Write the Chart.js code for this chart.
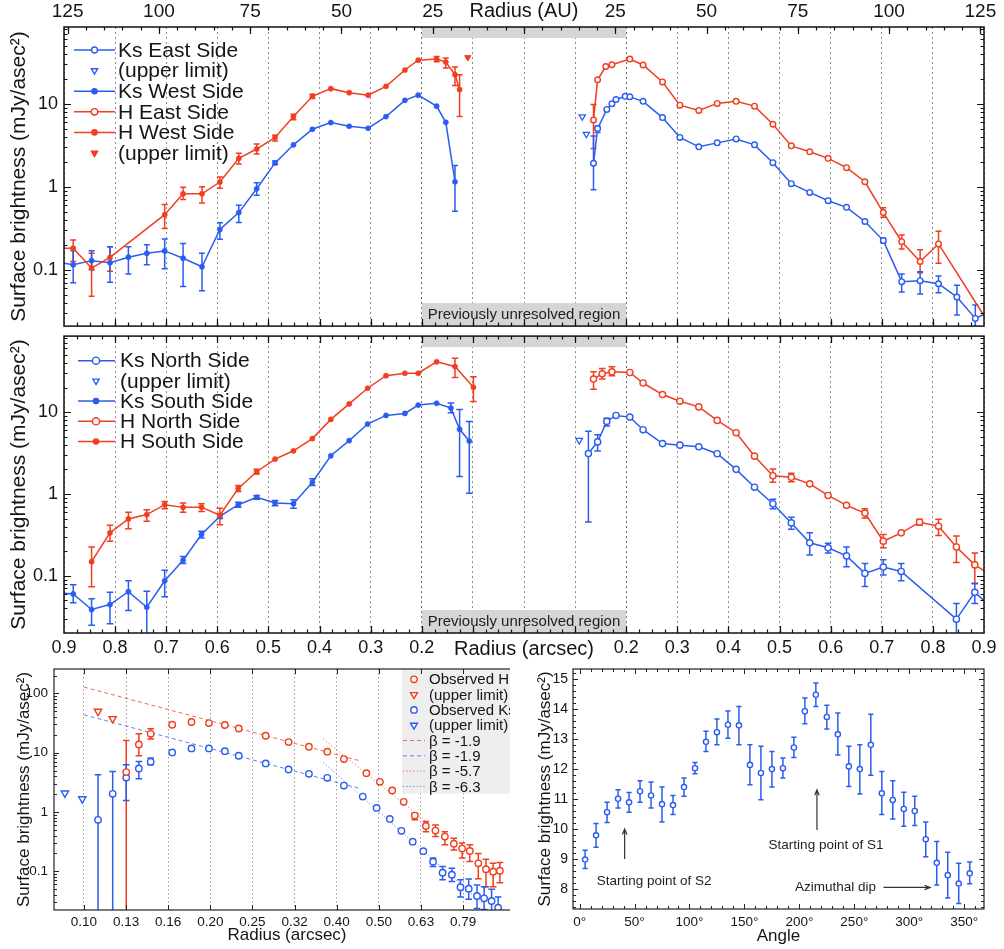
<!DOCTYPE html>
<html>
<head>
<meta charset="utf-8">
<title>Surface brightness profiles</title>
<script src="https://cdn.jsdelivr.net/npm/chart.js@4.4.1/dist/chart.umd.min.js"></script>
<style>
  html, body { margin: 0; padding: 0; background: #fff; }
  #wrap { position: relative; width: 1004px; height: 949px; overflow: hidden; }
  .cell { position: absolute; overflow: hidden; }
  canvas { display: block; }
</style>
</head>
<body>
<div id="wrap">
  <div class="cell" style="left:0;top:0;width:1004px;height:331px"><canvas id="ew" width="1004" height="331"></canvas></div>
  <div class="cell" style="left:0;top:331px;width:1004px;height:329px"><canvas id="ns" width="1004" height="329"></canvas></div>
  <div class="cell" style="left:0;top:660px;width:510px;height:289px"><canvas id="pl" width="530" height="289"></canvas></div>
  <div class="cell" style="left:510px;top:660px;width:494px;height:289px"><canvas id="az" width="494" height="289"></canvas></div>
</div>
<script>
// ---------- axis labels ----------
const AU_PER_ARCSEC = 140;
const arcsecGrid = [0.1, 0.2, 0.3, 0.4, 0.5, 0.6, 0.7, 0.8, 0.9];
const auLabels = [25, 50, 75, 100, 125];
const profileDecades = [0.1, 1, 10];
const slopeDecades = [0.1, 1, 10, 100];
const radiusTicks = [0.1, 0.1259, 0.1585, 0.1995, 0.2512, 0.3162, 0.3981, 0.5012, 0.631, 0.7943];
const angleLabels = [0, 50, 100, 150, 200, 250, 300, 350];
const brightLabels = [8, 9, 10, 11, 12, 13, 14, 15];

// ---------- East / West profiles (radius in arcsec) ----------
const ksWestR = [0.905, 0.882, 0.846, 0.810, 0.774, 0.738, 0.703, 0.667, 0.630, 0.595, 0.558, 0.523, 0.487, 0.451, 0.414, 0.378, 0.342, 0.305, 0.270, 0.233, 0.207, 0.171, 0.153, 0.135];
const ksWestV = [0.121, 0.115, 0.129, 0.122, 0.142, 0.158, 0.169, 0.138, 0.109, 0.306, 0.489, 0.946, 1.94, 3.20, 4.93, 5.93, 5.36, 5.07, 7.00, 11.0, 12.7, 9.36, 5.98, 1.15];
const ksWestErr = [null, [0.07, 0.17], [0.10, 0.17], [0.071, 0.19], [0.089, 0.19], [0.115, 0.20], [0.103, 0.235], [0.063, 0.208], [0.056, 0.158], [0.234, 0.368], [0.372, 0.599], [0.79, 1.12], [1.85, 2.04],
  null, null, null, null, null, null, null, null, null, null, [0.507, 1.80]];

const hWestR = [0.905, 0.882, 0.846, 0.810, 0.703, 0.667, 0.630, 0.595, 0.558, 0.523, 0.487, 0.451, 0.414, 0.378, 0.342, 0.305, 0.270, 0.233, 0.207, 0.171, 0.153, 0.135, 0.126];
const hWestV = [0.182, 0.182, 0.105, 0.141, 0.462, 0.824, 0.824, 1.14, 2.20, 2.85, 3.93, 7.0, 12.3, 15.2, 13.6, 12.7, 16.2, 25.5, 33.5, 34.5, 31.8, 22.4, 14.8];
const hWestErr = [null, [0.126, 0.228], [0.048, 0.158], [0.096, 0.19], [0.315, 0.61], [0.705, 0.99], [0.64, 1.0], [0.96, 1.31], [1.88, 2.53], [2.48, 3.27], [3.57, 4.18], [6.4, 7.45], [11.6, 13.0],
  null, null, null, null, null, null, [32, 37], [26.9, 35.5], [16.6, 27.7], [7.0, 22.4]];
const hWestLimR = [0.110];
const hWestLimV = [36.1];

const ksEastR = [0.136, 0.144, 0.162, 0.172, 0.180, 0.198, 0.207, 0.233, 0.271, 0.305, 0.342, 0.378, 0.415, 0.451, 0.487, 0.523, 0.559, 0.595, 0.631, 0.667, 0.703, 0.739, 0.775, 0.811, 0.847, 0.883, 0.905];
const ksEastV = [1.92, 5.02, 8.55, 10.0, 11.25, 12.3, 12.1, 10.7, 6.81, 3.93, 3.03, 3.38, 3.77, 3.20, 1.95, 1.09, 0.855, 0.68, 0.566, 0.382, 0.225, 0.072, 0.074, 0.068, 0.047, 0.026, 0.030];
const ksEastErr = [[0.92, 4.1], [4.5, 5.4], null, null, null, null, null, null, null, null, null, null, null, null, null, null, null, null, null, null,
  [0.21, 0.24], [0.054, 0.089], [0.051, 0.095], [0.053, 0.084], [0.0285, 0.065], [0.020, 0.0376], null];
const ksEastLimR = [0.114, 0.122];
const ksEastLimV = [7.0, 4.3];

const hEastR = [0.136, 0.144, 0.160, 0.172, 0.207, 0.233, 0.271, 0.305, 0.342, 0.378, 0.415, 0.451, 0.487, 0.523, 0.559, 0.595, 0.631, 0.667, 0.703, 0.739, 0.775, 0.811, 0.905];
const hEastV = [6.37, 19.4, 28.1, 29.5, 34.5, 29.3, 18.3, 9.62, 8.32, 10.1, 10.7, 9.36, 5.66, 3.11, 2.64, 2.20, 1.70, 1.15, 0.489, 0.218, 0.126, 0.205, 0.025];
const hEastErr = [[2.9, 9.8], null, null, null, null, null, null, null, null, null, null, null, null, null, null, null, null, null,
  [0.43, 0.56], [0.178, 0.262], [0.092, 0.174], [0.12, 0.292], null];

// ---------- North / South profiles ----------
const ksSouthR = [0.905, 0.882, 0.846, 0.810, 0.774, 0.738, 0.703, 0.667, 0.631, 0.595, 0.559, 0.523, 0.487, 0.451, 0.414, 0.378, 0.342, 0.306, 0.270, 0.233, 0.207, 0.171, 0.143, 0.126, 0.107];
const ksSouthV = [0.0617, 0.060, 0.0387, 0.0445, 0.064, 0.0413, 0.0869, 0.155, 0.32, 0.533, 0.739, 0.908, 0.774, 0.761, 1.39, 2.93, 4.49, 7.16, 9.12, 9.64, 12.2, 12.85, 11.2, 6.17, 4.44];
const ksSouthErr = [null, [0.0467, 0.078], [0.0248, 0.0523], [0.026, 0.0628], [0.0377, 0.0869], [0.012, 0.0646], [0.0556, 0.117], [0.141, 0.172], [0.29, 0.35], [0.5, 0.57], [0.69, 0.79], [0.86, 0.96], [0.72, 0.83], [0.67, 0.85], [1.27, 1.53],
  null, null, null, null, null, null, null, [9.8, 12.96], [1.63, 10.8], [1.02, 7.71]];

const hSouthR = [0.846, 0.810, 0.774, 0.738, 0.703, 0.667, 0.631, 0.595, 0.559, 0.523, 0.487, 0.451, 0.414, 0.378, 0.342, 0.306, 0.270, 0.233, 0.207, 0.171, 0.135, 0.099];
const hSouthV = [0.149, 0.335, 0.496, 0.56, 0.74, 0.686, 0.69, 0.549, 1.17, 1.87, 2.67, 3.37, 4.75, 8.16, 12.6, 19.6, 27.9, 29.9, 29.9, 41.2, 36.1, 20.1];
const hSouthErr = [[0.0736, 0.225], [0.265, 0.415], [0.375, 0.60], [0.464, 0.64], [0.66, 0.81], [0.60, 0.774], [0.61, 0.76], [0.42, 0.67], [1.07, 1.27], [1.75, 2.0],
  null, null, null, null, null, null, null, null, null, null, [26.6, 45.5], [13.5, 27.1]];

const ksNorthR = [0.126, 0.144, 0.162, 0.180, 0.207, 0.233, 0.271, 0.305, 0.342, 0.378, 0.415, 0.451, 0.487, 0.523, 0.559, 0.595, 0.631, 0.667, 0.703, 0.738, 0.846, 0.882, 0.905];
const ksNorthV = [3.12, 4.33, 7.71, 9.12, 8.70, 6.10, 4.13, 3.95, 3.77, 3.10, 2.0, 1.21, 0.76, 0.443, 0.253, 0.220, 0.175, 0.107, 0.128, 0.113, 0.0295, 0.0628, 0.0467];
const ksNorthErr = [[0.455, 5.84], [3.34, 5.3], [6.77, 8.45], null, null, null, null, null, null, null, null, null,
  [0.66, 0.865], [0.37, 0.52], [0.18, 0.335], [0.19, 0.25], [0.129, 0.225], [0.074, 0.141], [0.102, 0.157], [0.087, 0.141], [0.012, 0.046], [0.046, 0.081], null];
const ksNorthLimR = [0.108];
const ksNorthLimV = [4.54];

const hNorthR = [0.136, 0.153, 0.172, 0.207, 0.233, 0.271, 0.305, 0.342, 0.378, 0.415, 0.451, 0.487, 0.523, 0.559, 0.595, 0.631, 0.667, 0.703, 0.738, 0.774, 0.811, 0.846, 0.882, 0.905];
const hNorthV = [25.4, 29.4, 31.1, 30.5, 22.7, 16.4, 13.6, 11.6, 7.93, 5.61, 2.90, 1.67, 1.60, 1.33, 0.96, 0.726, 0.585, 0.265, 0.335, 0.452, 0.404, 0.225, 0.136, 0.111];
const hNorthErr = [[19.1, 31.1], [25.4, 34.1], [27.9, 35.8], null, null, null, null, null, null, null, null, [1.39, 2.02], [1.41, 1.79], null, null, null,
  [0.51, 0.66], [0.22, 0.32], null, [0.415, 0.49], [0.31, 0.49], [0.145, 0.306], [0.080, 0.19], null];

// ---------- azimuthally averaged profile, log-log ----------
const obsHR = [0.126, 0.135, 0.144, 0.162, 0.180, 0.198, 0.216, 0.233, 0.270, 0.306, 0.342, 0.378, 0.414, 0.468, 0.504, 0.539, 0.574, 0.610, 0.648, 0.683, 0.719, 0.755, 0.790, 0.824, 0.863, 0.900, 0.936, 0.971];
const obsHV = [4.70, 13.8, 20.8, 29.6, 32.9, 31.6, 29.3, 25.6, 19.3, 15.1, 12.6, 10.4, 7.80, 4.52, 3.22, 2.30, 1.48, 0.87, 0.582, 0.485, 0.384, 0.292, 0.241, 0.220, 0.136, 0.108, 0.0985, 0.102];
const obsHErr = [[0.01, 16.1], [8.87, 20.8], [17.0, 25.3], null, null, null, null, null, null, null, null, null, null, null, null, null, null,
  [0.736, 0.955], [0.466, 0.69], [0.385, 0.60], [0.28, 0.466], [0.228, 0.36], [0.168, 0.30], [0.146, 0.28], [0.0744, 0.2], [0.0546, 0.159], [0.0546, 0.136], [0.064, 0.14]];
const obsHLimR = [0.108, 0.117];
const obsHLimV = [49.7, 37.4];

const obsKR = [0.108, 0.117, 0.126, 0.135, 0.144, 0.162, 0.180, 0.198, 0.216, 0.233, 0.270, 0.306, 0.342, 0.378, 0.414, 0.459, 0.495, 0.532, 0.567, 0.603, 0.639, 0.674, 0.710, 0.747, 0.783, 0.819, 0.857, 0.891, 0.928, 0.962];
const obsKV = [0.736, 2.02, 3.81, 5.41, 7.01, 10.1, 11.8, 11.8, 10.6, 8.87, 6.58, 5.20, 4.40, 3.77, 2.79, 1.82, 1.17, 0.764, 0.480, 0.316, 0.218, 0.145, 0.0946, 0.0877, 0.0537, 0.0509, 0.0383, 0.035, 0.0315, 0.0243];
const obsKErr = [[0.01, 4.23], [0.01, 4.81], [1.56, 6.25], [3.63, 7.1], [6.25, 8.1], null, null, null, null, null, null, null, null, null, null, null, null, null, null, null, null,
  [0.12, 0.168], [0.0718, 0.12], [0.0673, 0.112], [0.0369, 0.0718], [0.0338, 0.0737], [0.0236, 0.0586], [0.0227, 0.0546], [0.015, 0.0496], [0.01, 0.0369]];
const obsKLimR = [0.0901, 0.0991];
const obsKLimV = [2.08, 1.66];

// power-law fits: slope, anchor radius / brightness, end radius
const fitBeta = [-1.9, -1.9, -5.7, -6.3];
const fitFromR = [0.1, 0.1, 0.37, 0.37];
const fitFromV = [128, 43.6, 17.0, 6.83];
const fitToR = [0.452, 0.452, 0.66, 0.90];

// ---------- azimuthal profile ----------
const angles = [5, 15, 25, 35, 45, 55, 65, 75, 85, 95, 105, 115, 125, 135, 145, 155, 165, 175, 185, 195, 205, 215, 225, 235, 245, 255, 265, 275, 285, 295, 305, 315, 325, 335, 345, 355];
const azBright = [8.98, 9.79, 10.56, 11.01, 10.89, 11.26, 11.12, 10.83, 10.80, 11.40, 12.03, 12.91, 13.23, 13.48, 13.46, 12.14, 11.87, 12.0, 12.03, 12.72, 13.93, 14.48, 13.74, 13.16, 12.09, 12.0, 12.81, 11.19, 10.97, 10.67, 10.60, 9.66, 8.87, 8.46, 8.18, 8.52];
const azLo = [8.68, 9.39, 10.22, 10.70, 10.56, 10.89, 10.70, 10.23, 10.48, 11.09, 11.84, 12.59, 12.81, 13.03, 12.81, 11.48, 10.98, 11.40, 11.70, 12.39, 13.51, 14.09, 13.34, 12.47, 11.42, 11.17, 11.79, 10.48, 10.33, 10.09, 10.12, 9.07, 8.13, 7.70, 7.51, 8.17];
const azHi = [9.29, 10.18, 10.89, 11.31, 11.22, 11.61, 11.57, 11.40, 11.12, 11.70, 12.22, 13.26, 13.67, 13.94, 14.09, 12.81, 12.76, 12.59, 12.37, 13.06, 14.37, 14.87, 14.13, 13.87, 12.76, 12.81, 13.83, 11.92, 11.61, 11.23, 11.09, 10.23, 9.58, 9.22, 8.86, 8.90];

// ================= drawing =================
const BLUE = '#2b5cf2', RED = '#f23d1f', INK = '#151515';
const FONT = "'Liberation Sans', Arial, Helvetica, sans-serif";
Chart.defaults.font.family = FONT;
Chart.defaults.color = INK;
const YTITLE = 'Surface brightness (mJy/asec\u00b2)';

const both = v => [...v.map(a => -a).reverse(), 0, ...v];
function seq(from, to, step) {
  const out = [];
  for (let k = Math.ceil(from / step - 1e-9); k * step <= to + 1e-9; k++) out.push(k * step);
  return out;
}
function logSeq(lo, hi) {
  const out = [];
  for (let d = Math.floor(Math.log10(lo)); d <= Math.ceil(Math.log10(hi)); d++)
    for (let m = 1; m < 10; m++) { const v = m * Math.pow(10, d); if (v >= lo && v <= hi) out.push(v); }
  return out;
}
// fixed axis box, no label overhang padding
function boxSize(w, h) {
  return s => {
    if (w != null) s.width = w;
    if (h != null) s.height = h;
    s.paddingTop = s.paddingBottom = s.paddingLeft = s.paddingRight = 0;
  };
}

// one plotted series; side = -1 mirrors onto the left half
function series(label, rs, vs, es, side, color, look) {
  return {
    label,
    data: rs.map((r, i) => ({ x: side * r, y: vs[i] })),
    errs: es || null,
    cap: look.cap || 3,
    showLine: !!look.line,
    borderColor: color,
    backgroundColor: color,
    borderWidth: look.lw || 1.5,
    borderDash: look.dash || [],
    pointStyle: look.shape || 'circle',
    pointRotation: look.down ? 180 : 0,
    pointRadius: rs.map(r => (look.edge && r > 0.9 ? 0 : (look.r ?? 3))),
    pointHoverRadius: 0,
    pointBorderWidth: look.bw ?? 1.4,
    pointBackgroundColor: look.open ? '#fff' : color,
    pointBorderColor: color,
    clip: 0
  };
}

const errorBars = {
  id: 'errorBars',
  beforeDatasetsDraw(chart) {
    const { ctx, chartArea: a, scales } = chart;
    ctx.save();
    ctx.beginPath();
    ctx.rect(a.left, a.top, a.right - a.left, a.bottom - a.top);
    ctx.clip();
    chart.data.datasets.forEach(ds => {
      if (!ds.errs) return;
      const xs = scales.x, ys = scales.y, c = ds.cap;
      ctx.strokeStyle = ds.borderColor;
      ctx.lineWidth = 1.5;
      ds.errs.forEach((e, j) => {
        if (!e) return;
        const x = xs.getPixelForValue(ds.data[j].x);
        const y0 = ys.getPixelForValue(e[0]), y1 = ys.getPixelForValue(e[1]);
        ctx.beginPath();
        ctx.moveTo(x, y0); ctx.lineTo(x, y1);
        ctx.moveTo(x - c, y0); ctx.lineTo(x + c, y0);
        ctx.moveTo(x - c, y1); ctx.lineTo(x + c, y1);
        ctx.stroke();
      });
    });
    ctx.restore();
  }
};

function frame(ctx, a, color, w) {
  ctx.save();
  ctx.strokeStyle = color; ctx.lineWidth = w;
  ctx.strokeRect(a.left, a.top, a.right - a.left, a.bottom - a.top);
  ctx.restore();
}
function marksX(ctx, sc, a, vals, len, top, bottom) {
  ctx.beginPath();
  vals.forEach(v => {
    const x = Math.round(sc.getPixelForValue(v)) + 0.5;
    if (x < a.left + 1 || x > a.right - 1) return;
    if (bottom) { ctx.moveTo(x, a.bottom); ctx.lineTo(x, a.bottom - len); }
    if (top) { ctx.moveTo(x, a.top); ctx.lineTo(x, a.top + len); }
  });
  ctx.stroke();
}
function marksY(ctx, sc, a, vals, len) {
  ctx.beginPath();
  vals.forEach(v => {
    const y = Math.round(sc.getPixelForValue(v)) + 0.5;
    if (y < a.top + 1 || y > a.bottom - 1) return;
    ctx.moveTo(a.left, y); ctx.lineTo(a.left + len, y);
    ctx.moveTo(a.right, y); ctx.lineTo(a.right - len, y);
  });
  ctx.stroke();
}
function drawMark(ctx, it, x, y) {
  ctx.save();
  ctx.strokeStyle = it.color;
  ctx.fillStyle = it.open ? '#fff' : it.color;
  ctx.lineWidth = 1.4;
  Chart.helpers.drawPoint(ctx, { pointStyle: it.shape, radius: it.r, rotation: it.down ? 180 : 0, borderWidth: 1.4 }, x, y);
  ctx.restore();
}
function drawLegend(ctx, items, g) {
  ctx.save();
  ctx.font = g.font;
  ctx.textBaseline = 'middle';
  ctx.textAlign = 'left';
  items.forEach((it, i) => {
    const y = g.y + i * g.dy;
    if (it.line) {
      ctx.strokeStyle = it.color;
      ctx.lineWidth = it.lw || 1.5;
      ctx.setLineDash(Array.isArray(it.line) ? it.line : []);
      ctx.beginPath(); ctx.moveTo(g.x0, y); ctx.lineTo(g.x1, y); ctx.stroke();
      ctx.setLineDash([]);
    }
    if (it.shape) drawMark(ctx, it, g.mx, y);
    ctx.fillStyle = INK;
    ctx.fillText(it.text, g.tx, y + 1);
  });
  ctx.restore();
}
function arrow(ctx, x0, y0, x1, y1) {
  const ang = Math.atan2(y1 - y0, x1 - x0), h = 6;
  ctx.beginPath();
  ctx.moveTo(x0, y0); ctx.lineTo(x1, y1);
  ctx.moveTo(x1 - h * Math.cos(ang - 0.38), y1 - h * Math.sin(ang - 0.38));
  ctx.lineTo(x1, y1);
  ctx.lineTo(x1 - h * Math.cos(ang + 0.38), y1 - h * Math.sin(ang + 0.38));
  ctx.stroke();
}

// gray markers for the inner region
const unresolved = {
  id: 'unresolved',
  beforeDatasetsDraw(chart) {
    const { ctx, chartArea: a, scales: { x } } = chart;
    const x0 = x.getPixelForValue(-0.2), x1 = x.getPixelForValue(0.2);
    ctx.save();
    ctx.fillStyle = '#d5d5d5';
    ctx.fillRect(x0, a.top, x1 - x0, 11);
    ctx.fillRect(x0, a.bottom - 23, x1 - x0, 23);
    ctx.fillStyle = '#1e1e1e';
    ctx.font = '15px ' + FONT;
    ctx.textAlign = 'center';
    ctx.textBaseline = 'middle';
    ctx.fillText('Previously unresolved region', (x0 + x1) / 2, a.bottom - 11);
    ctx.restore();
  }
};

function profileAxes(ymin, ymax, xBottom) {
  const gridColor = c => (c.tick && Math.abs(Math.abs(c.tick.value) - 0.2) < 1e-6 ? '#666' : '#8e8e8e');
  return {
    x: {
      type: 'linear', min: -0.9, max: 0.9, position: 'bottom',
      afterBuildTicks: s => { s.ticks = both(arcsecGrid).map(v => ({ value: v })); },
      afterFit: boxSize(null, xBottom ? 27 : 3),
      ticks: {
        display: xBottom, padding: 4, autoSkip: false, maxRotation: 0, minRotation: 0,
        font: c => ({ size: c.tick && c.tick.value === 0 ? 20 : 18 }),
        callback: v => {
          const a = Math.abs(v);
          if (a < 1e-9) return 'Radius (arcsec)';
          return a < 0.15 ? '' : a.toFixed(1);
        }
      },
      grid: { color: gridColor, lineWidth: 1, drawTicks: false },
      border: { display: false, dash: [2, 3] }
    },
    y: {
      type: 'logarithmic', min: ymin, max: ymax,
      afterBuildTicks: s => { s.ticks = profileDecades.map(v => ({ value: v })); },
      afterFit: boxSize(64, null),
      ticks: { padding: 6, font: { size: 18 }, callback: v => String(v), autoSkip: false },
      grid: { display: false, drawTicks: false },
      border: { display: false },
      title: { display: true, text: YTITLE, font: { size: 21 }, padding: { top: 7, bottom: 0 } }
    }
  };
}

function profileFrame(chart, withAU) {
  const { ctx, chartArea: a, scales } = chart;
  ctx.save();
  ctx.strokeStyle = '#111';
  ctx.lineWidth = 1.2;
  marksX(ctx, scales.x, a, seq(-0.9, 0.9, 0.1), 7, !withAU, true);
  marksX(ctx, scales.x, a, seq(-0.9, 0.9, 0.025), 3.5, !withAU, true);
  if (withAU) {
    marksX(ctx, scales.x2, a, seq(-125, 125, 25), 7, true, false);
    marksX(ctx, scales.x2, a, seq(-125, 125, 5), 3.5, true, false);
  }
  marksY(ctx, scales.y, a, profileDecades, 7);
  marksY(ctx, scales.y, a, logSeq(scales.y.min, scales.y.max), 3.5);
  ctx.restore();
  frame(ctx, a, '#111', 1.5);
}

const lineOpen = { line: true, open: true, r: 2.8, edge: true };
const lineDot = { line: true, r: 2.6, bw: 0.5, edge: true };

// ----- East / West -----
new Chart(document.getElementById('ew'), {
  type: 'scatter',
  data: {
    datasets: [
      series('H West Side', hWestR, hWestV, hWestErr, -1, RED, lineDot),
      series('H East Side', hEastR, hEastV, hEastErr, 1, RED, lineOpen),
      series('H West limit', hWestLimR, hWestLimV, null, -1, RED, { shape: 'triangle', down: true, r: 3.6, bw: 1 }),
      series('Ks West Side', ksWestR, ksWestV, ksWestErr, -1, BLUE, lineDot),
      series('Ks East Side', ksEastR, ksEastV, ksEastErr, 1, BLUE, lineOpen),
      series('Ks East limit', ksEastLimR, ksEastLimV, null, 1, BLUE, { shape: 'triangle', down: true, open: true, r: 3.6, bw: 1.3 })
    ]
  },
  options: {
    responsive: false, animation: false, events: [],
    layout: { padding: { right: 20 } },
    plugins: { legend: { display: false }, tooltip: { enabled: false } },
    scales: Object.assign(profileAxes(0.021, 84, false), {
      x2: {
        type: 'linear', position: 'top', min: -0.9 * AU_PER_ARCSEC, max: 0.9 * AU_PER_ARCSEC,
        afterBuildTicks: s => { s.ticks = both(auLabels).map(v => ({ value: v })); },
        afterFit: boxSize(null, 27),
        ticks: {
          padding: 4, autoSkip: false, maxRotation: 0, minRotation: 0,
          font: c => ({ size: c.tick && c.tick.value === 0 ? 20 : 19 }),
          callback: v => (v === 0 ? 'Radius (AU)' : String(Math.abs(v)))
        },
        grid: { display: false, drawTicks: false },
        border: { display: false }
      }
    })
  },
  plugins: [unresolved, errorBars, {
    id: 'ewDecor',
    afterDraw(chart) {
      profileFrame(chart, true);
      drawLegend(chart.ctx, [
        { text: 'Ks East Side', color: BLUE, line: true, shape: 'circle', open: true, r: 3 },
        { text: '(upper limit)', color: BLUE, shape: 'triangle', down: true, open: true, r: 3.6 },
        { text: 'Ks West Side', color: BLUE, line: true, shape: 'circle', r: 2.6 },
        { text: 'H East Side', color: RED, line: true, shape: 'circle', open: true, r: 3.2 },
        { text: 'H West Side', color: RED, line: true, shape: 'circle', r: 2.6 },
        { text: '(upper limit)', color: RED, shape: 'triangle', down: true, r: 3.6 }
      ], { font: '21px ' + FONT, x0: 74, x1: 115, mx: 94.5, tx: 118, y: 50, dy: 20.6 });
    }
  }]
});

// ----- North / South -----
const lineOpenNS = { line: true, open: true, r: 3.1, edge: true, cap: 3.3 };
const lineDotNS = { line: true, r: 2.6, bw: 0.5, edge: true, cap: 3.3 };
new Chart(document.getElementById('ns'), {
  type: 'scatter',
  data: {
    datasets: [
      series('H South Side', hSouthR, hSouthV, hSouthErr, -1, RED, lineDotNS),
      series('H North Side', hNorthR, hNorthV, hNorthErr, 1, RED, lineOpenNS),
      series('Ks South Side', ksSouthR, ksSouthV, ksSouthErr, -1, BLUE, lineDotNS),
      series('Ks North Side', ksNorthR, ksNorthV, ksNorthErr, 1, BLUE, lineOpenNS),
      series('Ks North limit', ksNorthLimR, ksNorthLimV, null, 1, BLUE, { shape: 'triangle', down: true, open: true, r: 3.8, bw: 1.3 })
    ]
  },
  options: {
    responsive: false, animation: false, events: [],
    layout: { padding: { top: 2, right: 20 } },
    plugins: { legend: { display: false }, tooltip: { enabled: false } },
    scales: profileAxes(0.02, 85, true)
  },
  plugins: [unresolved, errorBars, {
    id: 'nsDecor',
    afterDraw(chart) {
      profileFrame(chart, false);
      drawLegend(chart.ctx, [
        { text: 'Ks North Side', color: BLUE, line: true, shape: 'circle', open: true, r: 3.6 },
        { text: '(upper limit)', color: BLUE, shape: 'triangle', down: true, open: true, r: 3.6 },
        { text: 'Ks South Side', color: BLUE, line: true, shape: 'circle', r: 2.6 },
        { text: 'H North Side', color: RED, line: true, shape: 'circle', open: true, r: 3.6 },
        { text: 'H South Side', color: RED, line: true, shape: 'circle', r: 2.6 }
      ], { font: '21px ' + FONT, x0: 78, x1: 115, mx: 96, tx: 120, y: 29.7, dy: 20.2 });
    }
  }]
});

// ----- radial power-law panel -----
const fitLook = i => ({ line: true, r: 0, lw: 1, dash: i < 2 ? [4, 3] : [1.2, 2.2] });
const fitSets = fitBeta.map((b, i) => {
  const endV = fitFromV[i] * Math.pow(fitToR[i] / fitFromR[i], b);
  return series('beta ' + b, [fitFromR[i], fitToR[i]], [fitFromV[i], endV], null, 1, i % 2 ? '#5a82f2' : '#f06a50', fitLook(i));
});
const openBig = { open: true, r: 3.2, cap: 3.3 };
new Chart(document.getElementById('pl'), {
  type: 'scatter',
  data: {
    datasets: [
      series('Observed H', obsHR, obsHV, obsHErr, 1, RED, openBig),
      series('H limit', obsHLimR, obsHLimV, null, 1, RED, { shape: 'triangle', down: true, open: true, r: 4.2 }),
      series('Observed Ks', obsKR, obsKV, obsKErr, 1, BLUE, openBig),
      series('Ks limit', obsKLimR, obsKLimV, null, 1, BLUE, { shape: 'triangle', down: true, open: true, r: 4.2 }),
      ...fitSets
    ]
  },
  options: {
    responsive: false, animation: false, events: [],
    layout: { padding: { top: 9, right: 10 } },
    plugins: { legend: { display: false }, tooltip: { enabled: false } },
    scales: {
      x: {
        type: 'logarithmic', min: 0.0849, max: 1.084,
        afterBuildTicks: s => { s.ticks = radiusTicks.map(v => ({ value: v })); },
        afterFit: boxSize(null, 39),
        ticks: { padding: 4, font: { size: 13.5 }, autoSkip: false, maxRotation: 0, minRotation: 0, callback: v => v.toFixed(2) },
        grid: { color: '#9a9a9a', drawTicks: false },
        border: { display: false, dash: [1.5, 2.5] },
        title: { display: true, text: 'Radius (arcsec)', font: { size: 17 }, padding: { top: 0, bottom: 3 } }
      },
      y: {
        type: 'logarithmic', min: 0.0222, max: 258,
        afterBuildTicks: s => { s.ticks = slopeDecades.map(v => ({ value: v })); },
        afterFit: boxSize(54, null),
        ticks: { padding: 6, font: { size: 13.5 }, callback: v => String(v), autoSkip: false },
        grid: { display: false, drawTicks: false },
        border: { display: false },
        title: { display: true, text: YTITLE, font: { size: 17 }, padding: { top: 14, bottom: 0 } }
      }
    }
  },
  plugins: [{
    id: 'plBox',
    beforeDatasetsDraw(chart) {
      const { ctx, chartArea: a } = chart;
      ctx.save();
      ctx.fillStyle = '#eeeeee';
      ctx.fillRect(402, a.top + 0.5, a.right - 402, 124);
      ctx.restore();
    }
  }, errorBars, {
    id: 'plDecor',
    afterDraw(chart) {
      const { ctx, chartArea: a, scales } = chart;
      ctx.save();
      ctx.strokeStyle = '#222';
      ctx.lineWidth = 1;
      marksX(ctx, scales.x, a, radiusTicks, 5, true, true);
      marksY(ctx, scales.y, a, slopeDecades, 5);
      marksY(ctx, scales.y, a, logSeq(scales.y.min, scales.y.max), 3);
      ctx.restore();
      frame(ctx, a, '#222', 1.2);
      const dashes = [[4, 3], [4, 3], [1.2, 2.2], [1.2, 2.2]];
      drawLegend(ctx, [
        { text: 'Observed H', color: RED, shape: 'circle', open: true, r: 3.2 },
        { text: '(upper limit)', color: RED, shape: 'triangle', down: true, open: true, r: 4 },
        { text: 'Observed Ks', color: BLUE, shape: 'circle', open: true, r: 3.2 },
        { text: '(upper limit)', color: BLUE, shape: 'triangle', down: true, open: true, r: 4 },
        ...fitBeta.map((b, i) => ({ text: '\u03b2 = ' + b, color: i % 2 ? '#5a82f2' : '#f06a50', line: dashes[i], lw: 1 }))
      ], { font: '15px ' + FONT, x0: 403, x1: 425, mx: 414, tx: 429, y: 19.3, dy: 15.3 });
    }
  }]
});

// ----- azimuthal panel -----
new Chart(document.getElementById('az'), {
  type: 'scatter',
  data: {
    datasets: [
      series('Ks azimuthal', angles, azBright, azLo.map((l, i) => [l, azHi[i]]), 1, BLUE, { open: true, r: 2.6, cap: 2.6 })
    ]
  },
  options: {
    responsive: false, animation: false, events: [],
    layout: { padding: { top: 9, right: 20 } },
    plugins: { legend: { display: false }, tooltip: { enabled: false } },
    scales: {
      x: {
        type: 'linear', min: -6, max: 368,
        afterBuildTicks: s => { s.ticks = angleLabels.map(v => ({ value: v })); },
        afterFit: boxSize(null, 40),
        ticks: { padding: 5, font: { size: 13.5 }, autoSkip: false, maxRotation: 0, minRotation: 0, callback: v => v + '\u00b0' },
        grid: { display: false, drawTicks: false },
        border: { display: false },
        title: { display: true, text: 'Angle', font: { size: 17 }, padding: { top: 0, bottom: 2 } }
      },
      y: {
        type: 'linear', min: 7.33, max: 15.34,
        afterBuildTicks: s => { s.ticks = brightLabels.map(v => ({ value: v })); },
        afterFit: boxSize(63, null),
        ticks: { padding: 5, font: { size: 14 }, autoSkip: false },
        grid: { display: false, drawTicks: false },
        border: { display: false },
        title: { display: true, text: YTITLE, font: { size: 17 }, padding: { top: 25, bottom: 0 } }
      }
    }
  },
  plugins: [errorBars, {
    id: 'azDecor',
    afterDraw(chart) {
      const { ctx, chartArea: a, scales: { x, y } } = chart;
      ctx.save();
      ctx.strokeStyle = '#222';
      ctx.lineWidth = 1;
      marksX(ctx, x, a, angleLabels, 5, true, true);
      marksX(ctx, x, a, seq(0, 360, 10), 3, true, true);
      marksY(ctx, y, a, brightLabels, 5);
      marksY(ctx, y, a, seq(7.4, 15.2, 0.2), 3);
      ctx.restore();
      frame(ctx, a, '#222', 1.2);

      ctx.save();
      ctx.strokeStyle = '#333';
      ctx.lineWidth = 1.2;
      arrow(ctx, x.getPixelForValue(41), y.getPixelForValue(9.0), x.getPixelForValue(41), y.getPixelForValue(10.0));
      arrow(ctx, x.getPixelForValue(216), y.getPixelForValue(9.97), x.getPixelForValue(216), y.getPixelForValue(11.31));
      arrow(ctx, x.getPixelForValue(276.5), y.getPixelForValue(8.05), x.getPixelForValue(319), y.getPixelForValue(8.05));
      ctx.fillStyle = '#1e1e1e';
      ctx.font = '13.5px ' + FONT;
      ctx.textBaseline = 'middle';
      ctx.textAlign = 'left';
      ctx.fillText('Starting point of S2', x.getPixelForValue(15.5), y.getPixelForValue(8.24));
      ctx.fillText('Starting point of S1', x.getPixelForValue(172), y.getPixelForValue(9.47));
      ctx.fillText('Azimuthal dip', x.getPixelForValue(196), y.getPixelForValue(8.05));
      ctx.restore();
    }
  }]
});
</script>
</body>
</html>
